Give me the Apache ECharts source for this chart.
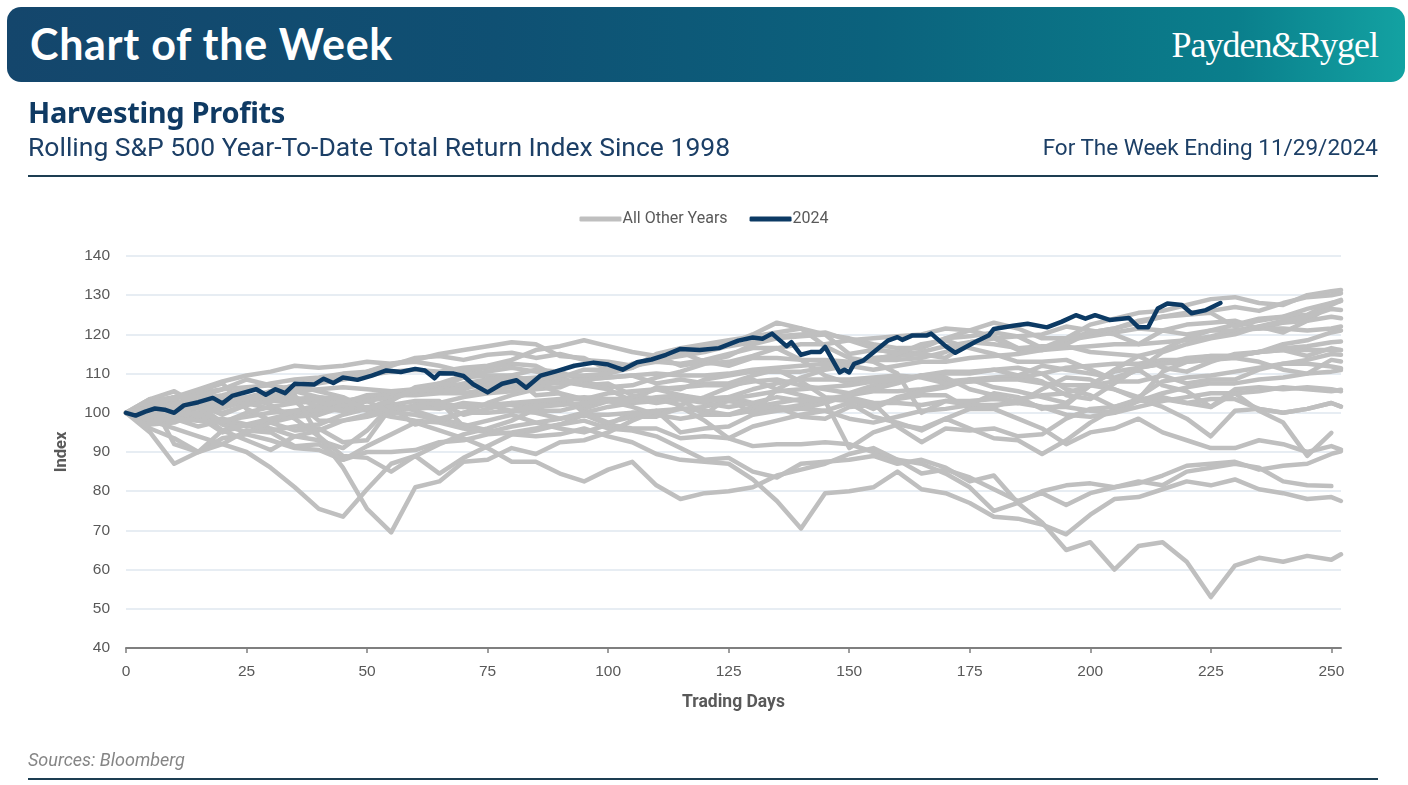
<!DOCTYPE html>
<html><head><meta charset="utf-8">
<script src="https://cdn.jsdelivr.net/npm/echarts@6.0.0/dist/echarts.min.js"></script>
<style>
html,body{margin:0;padding:0;width:1408px;height:785px;background:#fff;overflow:hidden;}
#chart{position:absolute;left:0;top:0;width:1408px;height:785px;}
.banner{position:absolute;left:7px;top:7px;width:1398px;height:75px;border-radius:14px;
 background:linear-gradient(90deg,#14466c 0%,#0f5073 35%,#0b627d 62%,#0a7f8c 88%,#13a2a2 100%);}
.bt{position:absolute;left:30px;top:18px;color:#fff;font:700 43px 'Lato','Open Sans',sans-serif;letter-spacing:0.7px;white-space:nowrap;}
.logo{position:absolute;right:30px;top:24px;color:#fff;font:400 36px 'Liberation Serif','DejaVu Serif',serif;letter-spacing:-1px;white-space:nowrap;}
.h1{position:absolute;left:28px;top:92px;color:#0f3a63;font:700 29px 'Noto Sans',sans-serif;white-space:nowrap;letter-spacing:-0.3px;}
.h2{position:absolute;left:28px;top:131px;color:#1c3f66;font:400 26.5px 'Roboto',sans-serif;white-space:nowrap;}
.h3{position:absolute;right:30px;top:134px;color:#1c3f66;font:400 22.5px 'Roboto',sans-serif;white-space:nowrap;}
.rule{position:absolute;left:28px;width:1350px;height:2px;background:#1d3e52;}
.src{position:absolute;left:28px;top:749px;color:#858585;font:italic 400 18px 'Roboto',sans-serif;white-space:nowrap;}
</style></head>
<body>
<div id="chart"></div>
<div class="banner"></div>
<div class="bt">Chart of the Week</div>
<div class="logo">Payden&amp;Rygel</div>
<div class="h1">Harvesting Profits</div>
<div class="h2">Rolling S&amp;P 500 Year-To-Date Total Return Index Since 1998</div>
<div class="h3">For The Week Ending 11/29/2024</div>
<div class="rule" style="top:175px"></div>
<div class="src">Sources: Bloomberg</div>
<div class="rule" style="top:778px"></div>
<script>
// Trading-day grid used for the historical years
const days = [0,5,10,15,20,25,30,35,40,45,50,55,60,
  65,70,75,80,85,90,95,100,105,110,115,120,125,
  130,135,140,145,150,155,160,165,170,175,180,185,190,
  195,200,205,210,215,220,225,230,235,240,245,250,252];

const y1998 = [100,97,97.5,100,101.2,103,105.5,107,108.5,108.8,110.5,112,114,
  114.5,113.5,114.8,115.3,114,115,113.5,113,112,113.5,115.5,116.5,117.5,
  120,123,121.5,117,114,113,110,100,103,102,105,104,101,
  102,107,111,114.5,116,119,121,121,122,120.5,123.5,127.5,128.6];
const y1999 = [100,100.5,102.5,102,104,102.5,101,99.5,101,102.5,104.5,105,105,
  106.5,109,109.5,109.5,111,110.5,108,106.5,107,109,110.5,112.5,113,
  114.5,116.5,113.5,109.5,107.5,108.5,108,109.5,108,108.5,106.5,105.5,104,
  102.5,107,110.5,111.5,112.5,114,114.5,114.5,115.5,117.5,118.5,120.5,121];
const y2000 = [100,98.5,98.5,99,95,97,96,94,93,91,95.5,102,103,
  103,96.5,98,99.5,97.5,96,95,97,100,99.5,98.5,99.5,99.5,
  100.5,101.5,99,98.5,101.5,102,103.5,104.5,104.5,101,101,98.5,96,
  92,95,96,98.5,95,93,91,91,93,92,90,91.5,90.6];
const y2001 = [100,98.5,101,100,103,104,102,98.5,94,89,88.5,85,89,
  84.5,88.5,91.5,94.5,95.5,97,99.5,97,96,96,93.5,94,93.5,
  91.5,92,92,92.5,92,90,88,87,84.5,81,75,77,80,
  81.5,82,81,82,84,86.5,87,87.5,85.5,86.5,87,89.5,90.2];
const y2002 = [100,101,99.5,98,98.5,97,95.5,96.5,97,99.5,101,102.5,100.5,
  98.5,97,95.5,94.5,94,94.5,96,94,92.5,89.5,88,87.5,87,
  83,77.5,70.5,79.5,80,81,85,80.5,79.5,77,73.5,73,71.5,
  69,74,78,78.5,80.5,82.5,81.5,83,80.5,79.5,78,78.5,77.5];
const y2003 = [100,103.5,105.5,102,97.5,96.5,97.5,95.5,96,92.5,93,101.5,97,
  98.5,100,102.5,104.5,106,106.5,109,110,111.5,114,115.5,113,112,
  114,114,113.5,113.5,113,113.5,115,115.5,117,118,119,116,116,
  118.5,119.5,120.5,121.5,121,120,121,122.5,124,124.5,126.5,128,128.5];
const y2004 = [100,101,102.5,104,102.5,103,103.5,103.5,104,102.5,101,99.5,102,
  102.5,101.5,102,100.5,100,98.5,100,101.5,102.5,103,103.5,103.5,104,
  102.5,101.5,101,100.5,98.5,97.5,99,100.5,101,102,102,102.5,101.5,
  101.5,100.5,100,103,105,106.5,107.5,107.5,108.5,109,110,110.5,110.9];
const y2005 = [100,98.5,98.5,96.5,98,99,100,100.5,100.5,102,100.5,99,98,
  97.5,96,95,96.5,97.5,98.5,99.5,99.5,100,100.5,101,100.5,99.5,
  101.5,102.5,103.5,103.5,104,102.5,102.5,102,103,103,103.5,103,101.5,
  99.5,99,100,101.5,103,104,105,105,105.5,106.5,106,105.5,105.9];
const y2006 = [100,102,102,101.5,103,103.5,103.5,103,103.5,103,104,104.5,104.5,
  105,105,106,106.5,107.5,105,103.5,103,101.5,99.5,101,101.5,103,
  102,101,102,103.5,104.5,105.5,105.5,106,107,108,108.5,109,110,
  111.5,112,112.5,112.5,113.5,113.5,114.5,114.5,115.5,116,116,116,116];
const y2007 = [100,99.5,100.5,101.5,101.8,102.5,103,103,98,98,99,100.5,101,
  102.5,104,105,105.5,106.5,108,108.5,109,109.5,107.5,108.5,107.5,107.5,
  109.5,111,108,104,103.5,101,104,105.5,106.5,108.5,109,109.5,112,
  111,110,109,111,107,105.5,101.5,106,106.5,106,106.5,106,105.5];
const y2008 = [100,95,87,90,93.5,94.5,93,91,90.5,88,90,90,90.5,
  92.5,93,94.5,95,96,97,98,96,95.5,94,91,88,88.5,
  85,83.5,87,87.5,88,89,87,88,86,82.5,84,77,72,
  65,67,60,66,67,62,53,61,63,62,63.5,62.5,63.9];
const y2009 = [100,103.5,92,90,92,90,86,81,75.5,73.5,80.5,87,89,
  92,94.5,96,98,101,103,101,103,104,106,104.5,103.5,104,
  99.5,106,109,111,112,114,114.5,115,114,118,119,119.5,120,
  122,121,120,117.5,121,122.5,123,123.5,121.5,123,123.5,124.5,124.1];
const y2010 = [100,102,103,101,97,95,97.5,99,99.5,101.5,103,104.5,105.5,
  106,107.5,108.5,109.5,104.5,105,100,97.5,99,99,101.5,98,93.5,
  96.5,98,99.5,100.5,102.5,99,97.5,95.5,98.5,101,101.5,103.5,104.5,
  105,107,108,108,109.5,107.5,108.5,108.5,111,112.5,113.5,115,114.8];
const y2011 = [100,101,102,103,102.5,104,105.5,107,105.5,104,101,103.5,105.5,
  106,106,108,108.5,109,108,107,107.5,104.5,103.5,102,104,106.5,
  108.5,106,104.5,103,91,95,97,96,98.5,96,93.5,93,89.5,
  93,97.5,101,103.5,101.5,98.5,94,100.5,101,100,101,102.5,101.6];
const y2012 = [100,101.5,102.5,103.5,104.5,106,107.5,108.5,109,110,110.5,112.5,113,
  112,110.5,111.5,112.5,112,109,107,106,103,106.5,106,108.5,109.5,
  110.5,110.5,110.5,111.5,113,113.5,113.5,114,115.5,118,117.5,116.5,117,
  117,115.5,115,114.5,111.5,110.5,113,115,115.5,116,114.5,116.5,116];
const y2013 = [100,103,104,105,106,106.5,107,106,107.5,108.5,109.5,110.5,111,
  110.5,111.5,112,113.5,116,117,118.5,117,115.5,114.5,112,113,114.5,
  117.5,119,119.5,120,119,117.5,116.5,116.5,119,121,123,121.5,119,
  119,122.5,124,125.5,126,127.5,129,129.5,128,127.5,130,131,131.3];
const y2014 = [100,99.5,99.5,100,95.5,97,98.5,100,101,100.5,101.5,100.5,102,
  102.5,99.5,101,102.5,102,103.5,103.5,105,105.5,106,106.5,107,107,
  108,108.5,107,106,105,107,108,109.5,110,110,111,109.5,108,
  104.5,103.5,107.5,111.5,112.5,113,113.5,114,113,111,110,113.5,113.1];
const y2015 = [100,98,98.5,98,97.5,100,101.5,102.5,103,102,101,101.5,101,
  101.5,101.5,102,102.5,103,103.5,104,103.5,103.5,103,103.5,102.5,101.5,
  102.5,104,103,103.5,103,102.5,96.5,92.5,96,95.5,96,94,94.5,
  98.5,101,101.5,103,103.5,102.5,103.5,103.5,101,100,101,102.5,101.6];
const y2016 = [100,96,93.5,90,95.5,93,90.5,94,95.5,98,99.5,101,101.5,
  101,102.5,102,102,100.5,100.5,102,103,103.5,102.5,103.5,99.5,104,
  106,107.5,108.5,108.5,108.5,109,109.5,109,107.5,108,108.5,108.5,107.5,
  107,107,106,104,108,109,109.5,110.5,111.5,112.5,112.5,111.8,111.4];
const y2017 = [100,100.5,101,101.5,102,103.5,104.5,105.5,106,106.5,106,105.5,106,
  105.5,106.5,107,107.5,108,107.5,108.5,109,109.5,110,109.5,109.5,110,
  111,111.5,112,112.5,112,111,112,113,113,114,114.5,115,116,
  116.5,117,117.5,117.5,118,118.5,119.5,121,121.5,121.5,121,121.5,122];
const y2018 = [100,102,103.5,105.5,107.5,101,98,100.5,102,103,103,100,99.5,
  98,100,100,100.5,101.5,102,102.5,103,103,104,104.5,103,103.5,
  104.5,105.5,106,106.5,107,108,108.5,109.5,110.5,110.5,111,111.5,110,
  106,104.5,101.5,103.5,104,102.5,101.5,105,100.5,97.5,89,94.9,null];
const y2019 = [100,102,104,106,108,109.5,110.5,112,111.5,112,113,112.5,113.5,
  115,116,117,118,117.5,114.5,114,111,111.5,115,116.5,117.5,118.5,
  119.5,120.5,121.5,120,115,116,115.5,117,119,119.5,120.5,119.5,116.5,
  119,120.5,121.5,123,124.5,125.5,126,127,126,128,129.5,130,130.5];
const y2020 = [100,100.5,102,102,100,102,104,104.5,94,86,75.5,69.5,81,
  82.5,87.5,88,91,89.5,92.5,93,95,98,100.5,95,96,96.5,
  99.5,100.5,101,102.5,104.5,106,107.5,109.5,109,106,104.5,102.5,106,
  109,108.5,106,103.5,110.5,113,113.5,114.5,115.5,116.5,117,118,118.2];
const y2021 = [100,101.5,101.5,102,99.5,102,103,104,101.5,100.5,103,104,105.5,
  107.5,109.5,110.5,111.5,110.5,109,111,111,112,113,112.5,113.5,115,
  116.5,116.5,117.5,117.5,118.5,119,119.5,120,121.5,121,119.5,116.5,116,
  117.5,120.5,121.5,123.5,124.5,125,125.5,122,123.5,124.5,125,128,128.8];
const y2022 = [100,98,96,94,92,95.5,95,91.5,92,88,91.5,94.5,97.5,
  95.5,93.5,91,87.5,87.5,84.5,82.5,85.5,87.5,81.5,78,79.5,80,
  81,84,85.5,87,89.5,91,88,84.5,85.5,83.5,80.5,77.5,79.5,
  76.5,79.5,81,82.5,81.5,85,86,87,86,82.5,81.5,81.3,null];
const y2023 = [100,101.5,104,104,106,108.5,107,105.5,104,103.5,101,103,106.5,
  107.5,107,108.5,109,108.5,109.5,109.5,110,112.5,113.5,114.5,115.5,117,
  118,119.5,120,120.5,118.5,116.5,115,117.5,118.5,116.5,115,113,113,
  113.5,111,108.5,111,115.5,117.5,119,120,122,123.5,124.5,126.5,126.2];

// 2024 (through 11/29/2024)
const days2024 = [0,2,4,6,8,10,12,15,18,20,22,25,27,29,31,33,35,39,41,43,45,48,51,54,57,60,62,64,65,68,70,72,75,78,81,83,86,89,93,97,100,103,106,109,112,115,119,123,127,130,132,134,137,138,140,142,144,145,148,149,150,151,153,156,158,160,161,163,166,167,170,172,176,179,180,184,187,191,194,197,199,201,204,208,210,212,214,216,219,221,224,227];
const v2024 = [100,99.3,100.3,101.1,100.8,100,101.9,102.7,103.8,102.4,104.3,105.3,106,104.6,106,105,107.4,107.2,108.7,107.6,109,108.4,109.5,110.8,110.4,111.2,110.8,108.8,110.1,110,109.4,107.3,105.2,107.4,108.3,106.4,109.5,110.5,112,112.8,112.3,111,112.9,113.6,114.8,116.3,116,116.5,118.4,119.2,118.9,120.2,117,118,114.8,115.5,115.5,116.8,110.3,111,110.3,112.5,113.4,116.4,118.4,119.3,118.6,119.7,119.7,120.2,117,115.3,118,119.8,121.4,122.2,122.7,121.8,123.2,124.9,124,124.9,123.7,124.2,121.8,121.8,126.6,127.9,127.5,125.4,126.2,128];

const otherYears = [y1998,y1999,y2000,y2001,y2002,y2003,y2004,y2005,y2006,y2007,y2008,y2009,y2010,
  y2011,y2012,y2013,y2014,y2015,y2016,y2017,y2018,y2019,y2020,y2021,y2022,y2023];
const xTicks = [0,25,50,75,100,125,150,175,200,225,250];
const otherName = 'All Other Years';
const name2024 = '2024';

const GREY = '#bfbfbf', NAVY = '#0c3a64';
const series = otherYears.map(arr => ({
  name: otherName, type: 'line', symbol: 'none', silent: true,
  data: arr.map((v, i) => [days[i], v]).filter(p => p[1] !== null),
  lineStyle: { color: GREY, width: 4.5, join: 'round', cap: 'round' }, itemStyle: { color: GREY }, z: 2
}));
series.push({
  name: name2024, type: 'line', symbol: 'none',
  data: v2024.map((v, i) => [days2024[i], v]),
  lineStyle: { color: NAVY, width: 4.5, join: 'round', cap: 'round' }, itemStyle: { color: NAVY }, z: 5
});

const chart = echarts.init(document.getElementById('chart'), null, { renderer: 'canvas' });
chart.setOption({
  animation: false,
  legend: {
    data: [otherName, name2024], top: 206, left: 'center',
    icon: 'roundRect', itemWidth: 42, itemHeight: 5, itemGap: 22,
    textStyle: { color: '#595959', fontSize: 16, fontFamily: 'Roboto', padding: [0, 0, 0, -4] }
  },
  grid: { left: 126, right: 67, top: 256, bottom: 137, containLabel: false },
  xAxis: {
    type: 'value', min: 0, max: 252,
    name: 'Trading Days', nameLocation: 'middle', nameGap: 46,
    nameTextStyle: { color: '#595959', fontSize: 17.5, fontWeight: 'bold', fontFamily: 'Roboto' },
    axisLine: { show: true, lineStyle: { color: '#7f7f7f', width: 2 } },
    axisTick: { show: true, customValues: xTicks, length: 5, lineStyle: { color: '#7f7f7f', width: 1.5 } },
    axisLabel: { customValues: xTicks, color: '#595959', fontSize: 15.5, margin: 16, fontFamily: 'Liberation Sans' },
    splitLine: { show: false }
  },
  yAxis: {
    type: 'value', min: 40, max: 140, interval: 10,
    name: 'Index', nameLocation: 'middle', nameGap: 56, nameRotate: 90,
    nameTextStyle: { color: '#595959', fontSize: 16.5, fontWeight: 'bold', fontFamily: 'Roboto' },
    axisLine: { show: false }, axisTick: { show: false },
    axisLabel: { color: '#595959', fontSize: 15.5, margin: 16, fontFamily: 'Liberation Sans' },
    splitLine: { lineStyle: { color: '#dfe7ef', width: 1.5 } }
  },
  series: series
});
</script>
</body></html>
